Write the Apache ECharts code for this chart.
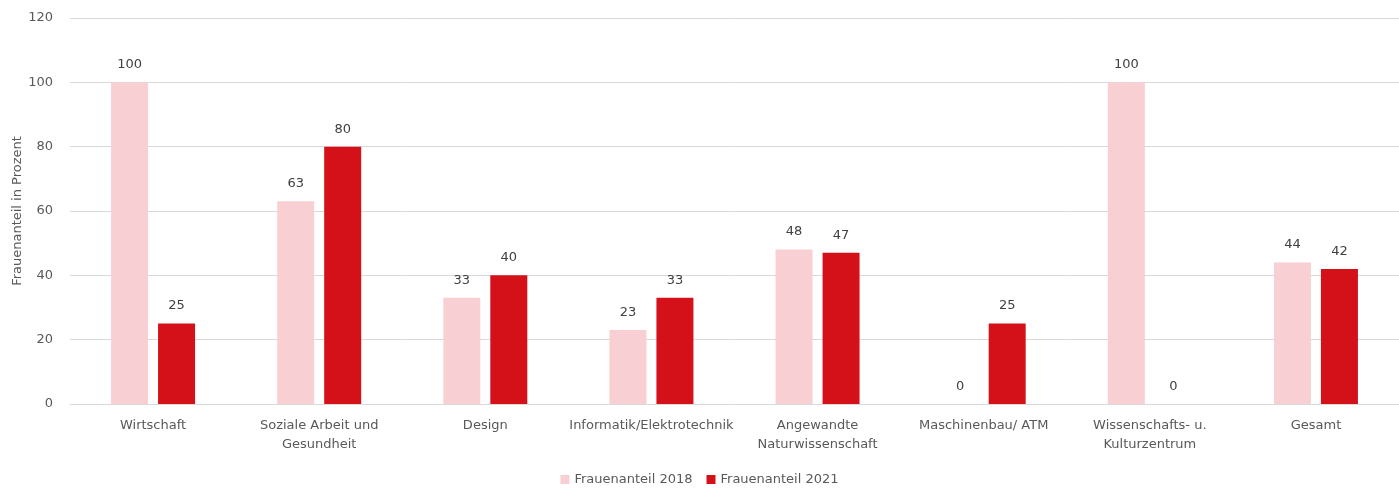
<!DOCTYPE html>
<html>
<head>
<meta charset="utf-8">
<script src="https://cdn.jsdelivr.net/npm/echarts@6/dist/echarts.min.js"></script>
<style>
  html, body { margin: 0; padding: 0; background: #ffffff; }
  #chart { width: 1399px; height: 491px; }
</style>
</head>
<body>
<div id="chart"></div>
<script>
// Fachbereiche
const categories = [
  'Wirtschaft',
  'Soziale Arbeit und\nGesundheit',
  'Design',
  'Informatik/Elektrotechnik',
  'Angewandte\nNaturwissenschaft',
  'Maschinenbau/ ATM',
  'Wissenschafts- u.\nKulturzentrum',
  'Gesamt'
];
// Frauenanteil in Prozent
const values2018 = [100, 63, 33, 23, 48, 0, 100, 44];
const values2021 = [25, 80, 40, 33, 47, 25, 0, 42];
const yTicks = [0, 20, 40, 60, 80, 100, 120];

const font = '"DejaVu Sans", "Open Sans", sans-serif';
const textColor = '#595959';

const chart = echarts.init(document.getElementById('chart'), null, { renderer: 'canvas' });
chart.setOption({
  animation: false,
  textStyle: { fontFamily: font },
  grid: { left: 70, right: 0, top: 18, bottom: 87, containLabel: false, outerBoundsMode: 'none' },
  legend: {
    bottom: 0,
    left: 'center',
    itemWidth: 9,
    itemHeight: 9,
    itemGap: 14,
    icon: 'rect',
    textStyle: { color: textColor, fontSize: 13, fontFamily: font },
    data: ['Frauenanteil 2018', 'Frauenanteil 2021']
  },
  xAxis: {
    type: 'category',
    data: categories,
    axisLine: { lineStyle: { color: '#d9d9d9' } },
    axisTick: { show: false },
    axisLabel: { color: textColor, fontSize: 13, lineHeight: 19, margin: 12, interval: 0 }
  },
  yAxis: {
    type: 'value',
    min: yTicks[0],
    max: yTicks[yTicks.length - 1],
    interval: 20,
    name: 'Frauenanteil in Prozent',
    nameLocation: 'middle',
    nameGap: 46,
    nameMoveOverlap: false,
    nameRotate: 90,
    nameTextStyle: { color: textColor, fontSize: 13 },
    axisLine: { show: false },
    axisTick: { show: false },
    axisLabel: { color: textColor, fontSize: 13, margin: 17 },
    splitLine: { lineStyle: { color: '#d9d9d9' } }
  },
  series: [
    {
      name: 'Frauenanteil 2018',
      type: 'bar',
      data: values2018,
      barWidth: 37,
      barGap: '27%',
      itemStyle: { color: '#f8cfd2' },
      label: { show: true, position: 'top', distance: 11, color: '#404040', fontSize: 13 }
    },
    {
      name: 'Frauenanteil 2021',
      type: 'bar',
      data: values2021,
      barWidth: 37,
      barGap: '27%',
      itemStyle: { color: '#d41118' },
      label: { show: true, position: 'top', distance: 11, color: '#404040', fontSize: 13 }
    }
  ]
});
</script>
</body>
</html>
